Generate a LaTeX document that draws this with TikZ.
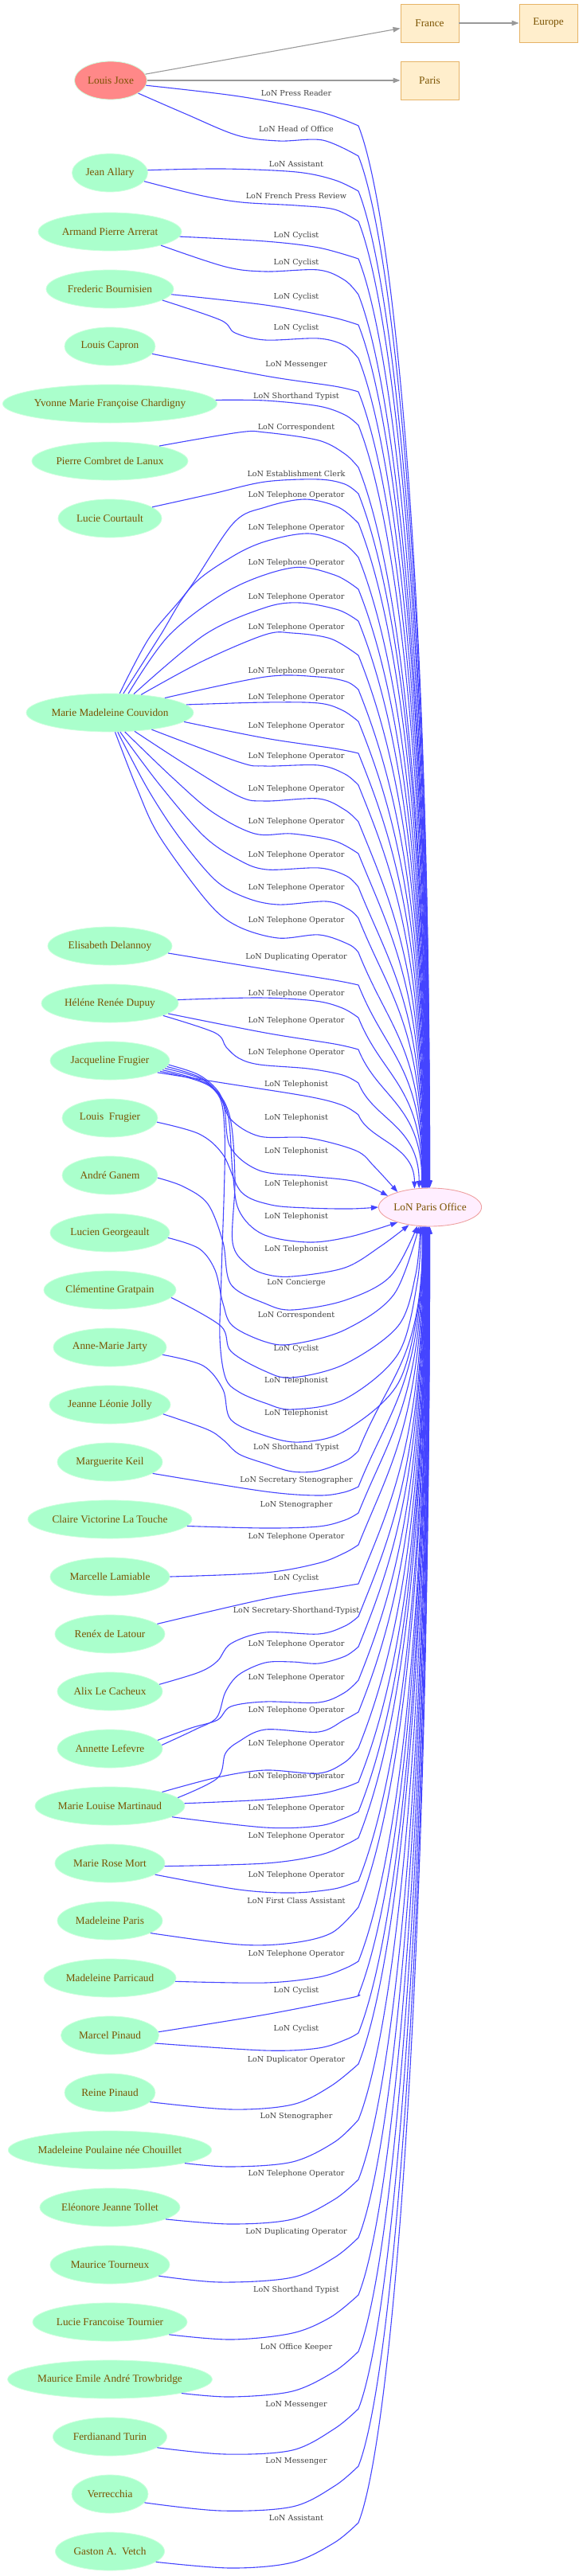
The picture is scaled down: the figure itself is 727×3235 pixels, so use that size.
\documentclass[tikz,border=0pt]{standalone}
\usepackage{fontspec}
\setmainfont{Liberation Serif}
\newfontfamily\labfont{DejaVu Serif}
\usetikzlibrary{shapes.geometric,arrows.meta,calc}
\definecolor{pfill}{HTML}{AAFFCC}
\definecolor{pborder}{HTML}{CCFFDD}
\definecolor{jfill}{HTML}{FF8888}
\definecolor{ofill}{HTML}{FFEEFF}
\definecolor{oborder}{HTML}{EEA0A0}
\definecolor{bfill}{HTML}{FFEECC}
\definecolor{bborder}{HTML}{E6B366}
\definecolor{ntext}{HTML}{7A5200}
\definecolor{labc}{HTML}{404040}
\definecolor{edc}{HTML}{4444FF}
\definecolor{gc}{HTML}{999999}
\newcommand\EU[3]{%
  \pgfmathsetmacro\eHh{0.6*(1492-#2)}%
  \pgfmathsetmacro\eBb{min(100,0.35*(1492-#2))}%
  \pgfmathsetmacro\eCx{450+0.4*\eBb}%
  \pgfmathsetmacro\eCy{#2+\eBb}%
  \draw[ed] plot[smooth,tension=.55] coordinates {#1 (450,#2)} .. controls (\eCx,\eCy) and ($(office.#3)+(0,-\eHh)$) .. (office.#3);%
}
\newcommand\EL[3]{%
  \pgfmathsetmacro\eHh{0.6*(#2-1540)}%
  \pgfmathsetmacro\eBb{min(100,0.35*(#2-1540))}%
  \pgfmathsetmacro\eCx{450+0.4*\eBb}%
  \pgfmathsetmacro\eCy{#2-\eBb}%
  \draw[ed] plot[smooth,tension=.55] coordinates {#1 (450,#2)} .. controls (\eCx,\eCy) and ($(office.#3)+(0,\eHh)$) .. (office.#3);%
}
\newcommand\EP[1]{\draw[ed] plot[smooth,tension=.55] coordinates {#1};}
\begin{document}
\begin{tikzpicture}[x=1pt,y=-1pt,
  person/.style={ellipse, draw=pborder, fill=pfill, line width=0.8pt, minimum height=48pt, inner sep=0pt, text=ntext, font=\fontsize{13.3}{15}\selectfont},
  place/.style={rectangle, draw=bborder, fill=bfill, line width=0.9pt, minimum width=73pt, minimum height=48pt, inner sep=0pt, text=ntext, font=\fontsize{13.3}{15}\selectfont},
  lab/.style={font=\labfont\fontsize{9.6}{11}\selectfont, text=labc, inner sep=0pt, text height=7pt, text depth=2pt},
  ed/.style={draw=edc, line width=1.1pt, -{Triangle[length=9pt,width=6.5pt]}},
  gr/.style={draw=gc, line width=1.1pt, -{Triangle[length=9pt,width=6.5pt]}}]
\useasboundingbox (0,0) rectangle (727,3235);
% places
\node[place] (france) at (539.5,29) {France};
\node[place] (europe) at (688.5,29) {Europe};
\node[place] (paris) at (539.5,101) {Paris};
% office
\node[ellipse, draw=oborder, fill=ofill, line width=0.9pt, minimum width=128pt, minimum height=48pt, inner sep=0pt, text=ntext, font=\fontsize{13.3}{15}\selectfont] (office) at (540,1516) {LoN Paris Office};
% persons
\node[person, fill=jfill, minimum width=91pt] (joxe) at (139,101) {Louis Joxe};
\foreach \n/\y/\w/\t in {allary/217/95/Jean Allary, arrerat/291/180/Armand Pierre Arrerat, bournisien/363/160/Frederic Bournisien, capron/435/114/Louis Capron, chardigny/507/267/Yvonne Marie Françoise Chardigny, lanux/579/196/Pierre Combret de Lanux, courtault/651/130/Lucie Courtault, couvidon/895/210/Marie Madeleine Couvidon, delannoy/1188/156/Elisabeth Delannoy, dupuy/1260/172/Héléne Renée Dupuy, jfrugier/1332/150/Jacqueline Frugier, ganem/1476/120/André Ganem, georgeault/1548/150/Lucien Georgeault, gratpain/1620/166/Clémentine Gratpain, jarty/1692/142/Anne-Marie Jarty, jolly/1764/152/Jeanne Léonie Jolly, keil/1836/132/Marguerite Keil, latouche/1908/206/Claire Victorine La Touche, lamiable/1980/150/Marcelle Lamiable, latour/2052/138/Renéx de Latour, cacheux/2124/132/Alix Le Cacheux, lefevre/2196/132/Annette Lefevre, martinaud/2268/188/Marie Louise Martinaud, mort/2340/138/Marie Rose Mort, mparis/2412/132/Madeleine Paris, parricaud/2484/166/Madeleine Parricaud, mpinaud/2556/123/Marcel Pinaud, rpinaud/2628/114/Reine Pinaud, poulaine/2700/252/Madeleine Poulaine née Chouillet, tollet/2772/176/Eléonore Jeanne Tollet, tourneux/2844/150/Maurice Tourneux, tournier/2916/194/Lucie Francoise Tournier, trowbridge/2988/256/Maurice Emile André Trowbridge, turin/3060/143/Ferdianand Turin, verrecchia/3132/96/Verrecchia}
  {\node[person, minimum width=\w pt] (\n) at (138,\y) {\t};}
\node[person, minimum width=120pt] (lfrugier) at (138,1404) {Louis\ \ Frugier};
\node[person, minimum width=137pt] (vetch) at (138,3204) {Gaston A.\ \ Vetch};
% labels
\foreach \n/\y/\t in {1/118/Press Reader, 2/163/Head of Office, 3/207/Assistant, 4/247/French Press Review, 5/296/Cyclist, 6/330/Cyclist, 7/373/Cyclist, 8/412/Cyclist, 9/458/Messenger, 10/498/Shorthand Typist, 11/537/Correspondent, 12/596/Establishment Clerk, 13/622/Telephone Operator, 14/663/Telephone Operator, 15/707/Telephone Operator, 16/750/Telephone Operator, 17/788/Telephone Operator, 18/843/Telephone Operator, 19/876/Telephone Operator, 20/912/Telephone Operator, 21/950/Telephone Operator, 22/991/Telephone Operator, 23/1032/Telephone Operator, 24/1074/Telephone Operator, 25/1115/Telephone Operator, 26/1156/Telephone Operator, 27/1202/Duplicating Operator, 28/1248/Telephone Operator, 29/1282/Telephone Operator, 30/1322/Telephone Operator, 31/1362/Telephonist, 32/1404/Telephonist, 33/1446/Telephonist, 34/1487/Telephonist, 35/1528/Telephonist, 36/1569/Telephonist, 37/1611/Concierge, 38/1652/Correspondent, 39/1694/Cyclist, 40/1734/Telephonist, 41/1775/Telephonist, 42/1818/Shorthand Typist, 43/1859/Secretary Stenographer, 44/1890/Stenographer, 45/1930/Telephone Operator, 46/1982/Cyclist, 47/2023/Secretary-Shorthand-Typist, 48/2065/Telephone Operator, 49/2107/Telephone Operator, 50/2148/Telephone Operator, 51/2190/Telephone Operator, 52/2231/Telephone Operator, 53/2271/Telephone Operator, 54/2306/Telephone Operator, 55/2355/Telephone Operator, 56/2388/First Class Assistant, 57/2454/Telephone Operator, 58/2500/Cyclist, 59/2548/Cyclist, 60/2587/Duplicator Operator, 61/2658/Stenographer, 62/2730/Telephone Operator, 63/2803/Duplicating Operator, 64/2876/Shorthand Typist, 65/2948/Office Keeper, 66/3020/Messenger, 67/3091/Messenger, 68/3163/Assistant}
  {\node[lab] (l\n) at (372,\y) {LoN \t};}
% grey edges
\draw[gr] (joxe) -- (france);
\draw[gr] (joxe) -- (paris);
\draw[gr] (france) -- (europe);
% upper edges
\EU{(joxe.-8) (300,121) (400,140)}{158}{91}
\EU{(joxe.-25) (233,143) (298,170) (350,177) (405,176)}{196}{91.8}
\EU{(allary.4) (280,212) (372,216) (420,226)}{240}{92.6}
\EU{(allary.-14) (250,245) (303,254) (372,258) (420,263)}{278}{93.4}
\EU{(arrerat.-4) (333,303) (400,311)}{325}{94.2}
\EU{(arrerat.-15) (283,335) (333,341) (400,339) (433,352)}{370}{95}
\EU{(bournisien.-5) (333,383) (415,398)}{408}{95.8}
\EU{(bournisien.-12) (277,402) (295,418) (333,427) (400,425) (433,434)}{450}{96.6}
\EU{(capron.-10) (333,472) (420,485)}{492}{97.4}
\EU{(chardigny.2) (333,503) (400,510) (433,521)}{534}{98.2}
\EU{(lanux.17) (300,543) (333,543) (400,553) (433,570)}{587}{99}
\EU{(courtault.15) (267,620) (333,605) (400,602) (433,608)}{620}{99.8}
\EU{(couvidon.63) (188,800) (237,740) (293,657) (333,637) (383,627) (425,637)}{657}{100.6}
\EU{(couvidon.55) (200,800) (240,737) (290,700) (333,680) (387,670) (430,682)}{700}{101.4}
\EU{(couvidon.46) (213,797) (290,740) (367,713) (420,722)}{740}{102.2}
\EU{(couvidon.38) (257,797) (333,763) (377,757) (425,766)}{780}{103}
\EU{(couvidon.30) (255,830) (333,797) (367,795) (415,802)}{823}{103.8}
\EU{(couvidon.15) (333,850) (400,850) (435,856)}{866}{104.6}
\EU{(couvidon.6) (333,882) (400,883) (430,892)}{906}{105.4}
\EU{(couvidon.-7) (333,927) (420,940)}{946}{106.2}
\EU{(couvidon.-22) (300,957) (333,962) (400,961) (433,972)}{986}{107}
\EU{(couvidon.-37.5) (233,960) (300,1000) (333,1006) (400,1003) (433,1017)}{1032}{107.8}
\EU{(couvidon.-52) (217,977) (267,1020) (320,1047) (367,1047) (420,1056)}{1072}{108.6}
\EU{(couvidon.-62) (200,985) (256,1050) (300,1080) (335,1092) (401,1090) (435,1100)}{1114}{109.4}
\EU{(couvidon.-68) (185,990) (224,1050) (270,1105) (308,1127) (349,1136) (410,1132) (438,1142)}{1153}{110.2}
\EU{(couvidon.-75) (172,990) (200,1050) (261,1133) (298,1163) (349,1178) (401,1174) (438,1186)}{1196}{111}
\EU{(delannoy.-7) (333,1217) (420,1231)}{1237}{111.8}
\EU{(dupuy.3) (326,1253) (396,1257) (430,1266)}{1278}{112.6}
\EU{(dupuy.-10) (333,1297) (420,1311)}{1318}{113.4}
\EU{(dupuy.-13) (270,1297) (284,1315) (300,1329) (326,1337) (387,1342) (430,1350)}{1360}{120}
\EU{(jfrugier.-14) (280,1360) (387,1377) (430,1388)}{1400}{130}
% middle edges
\EP{(jfrugier.-4) (250,1350) (275,1372) (289,1405) (326,1427) (387,1429) (447,1445) (470,1465) (office.155)}
\EP{(jfrugier.-6) (255,1355) (280,1385) (289,1440) (326,1470) (387,1477) (447,1484) (office.165)}
\EP{(lfrugier.-5) (250,1424) (280,1450) (303,1497) (340,1513) (387,1517) (440,1518) (office.west)}
\EP{(jfrugier.-8) (258,1358) (285,1395) (292,1470) (300,1520) (330,1550) (387,1560) (440,1553) (office.-155)}
\EP{(jfrugier.-10) (262,1362) (288,1400) (295,1480) (292,1560) (310,1588) (333,1600) (367,1603) (433,1592) (478,1565) (office.-140)}
\EP{(ganem.-3) (230,1490) (261,1512) (280,1560) (290,1613) (333,1637) (367,1645) (433,1633) (490,1603) (office.-124)}
\EP{(georgeault.-5) (250,1568) (270,1595) (280,1637) (292,1665) (333,1685) (367,1688) (433,1670) (495,1625) (office.-120)}
\EP{(gratpain.-7) (277,1665) (290,1697) (333,1722) (367,1730) (433,1713) (500,1665) (522,1600) (office.-117)}
\EP{(jfrugier.-12) (266,1366) (282,1420) (278,1600) (276,1680) (283,1730) (300,1748) (333,1762) (367,1770) (433,1757) (500,1700) (524,1610) (office.-115)}
\EP{(jarty.-8) (255,1715) (280,1745) (290,1783) (333,1803) (377,1811) (433,1797) (500,1737) (527,1630) (office.-113)}
% lower edges
\EL{(jolly.-10) (260,1795) (280,1808) (300,1826) (333,1838) (367,1848) (400,1847) (435,1834)}{1822}{-111.8}
\EL{(keil.-15) (333,1873) (400,1878) (432,1874)}{1867}{-111}
\EL{(latouche.-5) (333,1919) (400,1917) (433,1909)}{1900}{-110.2}
\EL{(lamiable.0) (333,1975) (400,1963) (433,1950)}{1940}{-109.4}
\EL{(latour.12) (333,2008) (420,1994)}{1989}{-108.6}
\EL{(cacheux.8) (250,2100) (273,2086) (290,2064) (333,2050) (400,2052) (433,2042)}{2030}{-107.8}
\EL{(lefevre.4) (245,2172) (272,2157) (283,2125) (300,2103) (333,2088) (367,2087) (400,2089) (433,2080)}{2068}{-107}
\EL{(lefevre.10) (240,2170) (273,2160) (290,2143) (333,2137) (400,2138) (432,2126)}{2110}{-106.2}
\EL{(martinaud.7) (273,2233) (283,2202) (300,2187) (333,2172) (400,2175) (432,2160)}{2150}{-105.4}
\EL{(martinaud.15) (273,2232) (333,2223) (400,2227) (433,2213)}{2195}{-104.6}
\EL{(martinaud.2) (333,2260) (400,2253) (432,2245)}{2238}{-103.8}
\EL{(martinaud.-10) (333,2295) (400,2293) (433,2283)}{2275}{-103}
\EL{(mort.-3) (333,2340) (400,2330) (435,2316)}{2308}{-102.2}
\EL{(mort.-14) (300,2373) (367,2377) (420,2372)}{2362}{-101.4}
\EL{(mparis.-17) (300,2442) (367,2440) (417,2427)}{2395}{-100.6}
\EL{(parricaud.-3) (333,2490) (400,2483) (433,2472)}{2463}{-99.8}
\EL{(mpinaud.4) (333,2530) (440,2509)}{2505}{-99}
\EL{(mpinaud.-10) (333,2575) (400,2572) (435,2561)}{2553}{-98.2}
\EL{(rpinaud.-13) (290,2649) (367,2643) (415,2620)}{2592}{-97.4}
\EL{(poulaine.-10.5) (290,2721) (367,2715) (420,2690)}{2662}{-96.6}
\EL{(tollet.-12) (290,2793) (367,2787) (420,2762)}{2737}{-95.8}
\EL{(tourneux.-13) (277,2866) (367,2860) (420,2835)}{2810}{-95}
\EL{(tournier.-12) (290,2938) (367,2930) (415,2910)}{2882}{-94.2}
\EL{(trowbridge.-11) (290,3010) (367,3003) (420,2978)}{2953}{-93.4}
\EL{(turin.-13) (283,3082) (367,3077) (420,3050)}{3025}{-92.6}
\EL{(verrecchia.-14) (277,3153) (367,3148) (420,3122)}{3097}{-91.8}
\EL{(vetch.-13) (290,3225) (367,3218) (420,3193)}{3168}{-91}
\end{tikzpicture}
\end{document}
